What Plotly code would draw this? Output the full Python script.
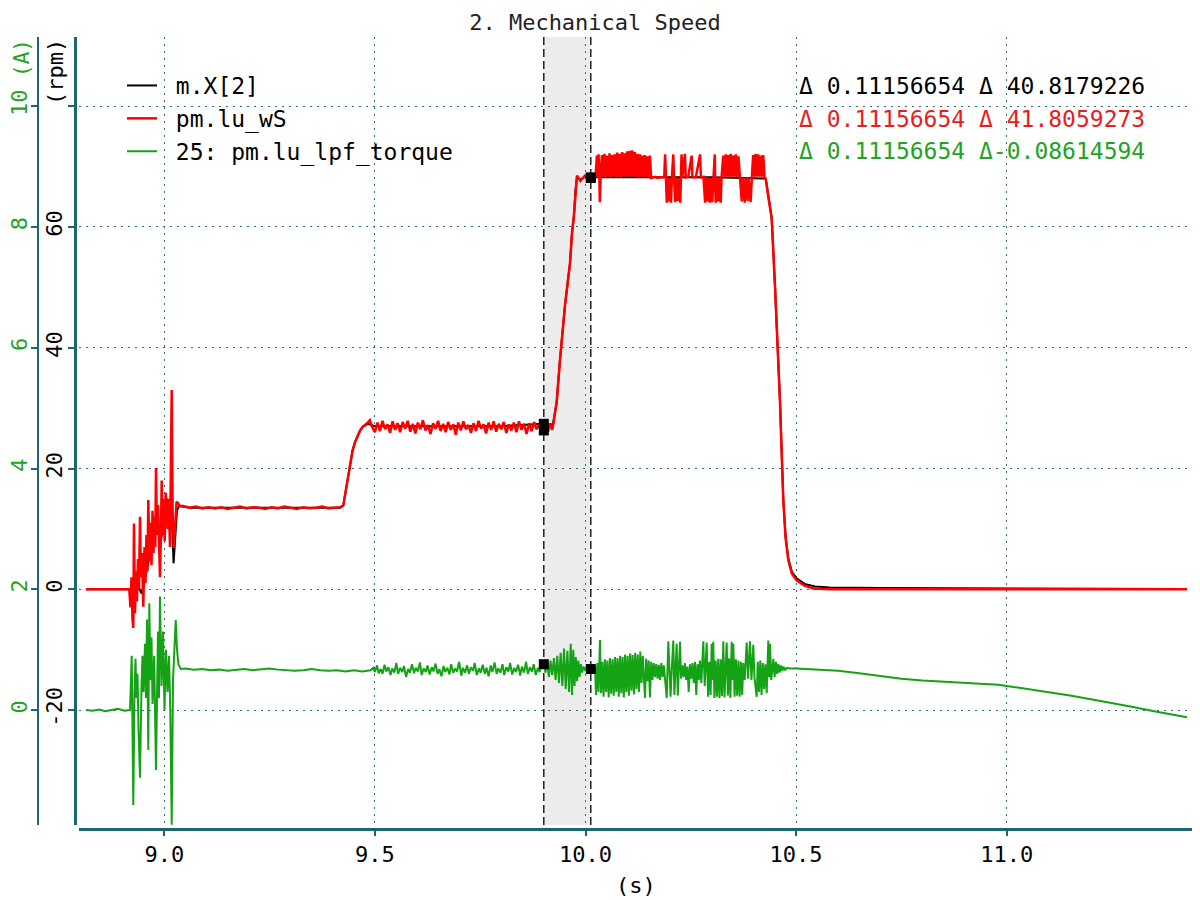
import plotly.graph_objects as go

# ---------------- data (time s, value) ----------------
# m.X[2]  (rpm)
black_pts = [
    (8.814, 0), (8.915, 0), (8.922, -0.5), (8.930, -1.5), (8.938, 0.5), (8.946, -0.7),
    (8.955, 2), (8.963, 5), (8.970, 7), (8.978, 10), (8.985, 11), (8.992, 8),
    (9.000, 12), (9.006, 15), (9.012, 10), (9.017, 14), (9.022, 4.3), (9.026, 9),
    (9.030, 13), (9.035, 13.8), (9.060, 13.5), (9.200, 13.5), (9.418, 13.5),
    (9.425, 13.9), (9.433, 17), (9.441, 20.5), (9.447, 23), (9.453, 24.4), (9.459, 25.5),
    (9.465, 26.3), (9.471, 26.9), (9.477, 27.2), (9.483, 27.4), (9.500, 27.0),
    (9.600, 27.0), (9.700, 27.0), (9.800, 27.0), (9.901, 27.4), (9.9228, 27.3),
    (9.9316, 31), (9.9394, 38), (9.9513, 47), (9.9632, 54), (9.9680, 59),
    (9.9727, 62), (9.9760, 66), (9.9798, 68.2), (9.9880, 67.8), (9.9990, 68.3),
    (10.0126, 68.2), (10.100, 68.2), (10.200, 68.2), (10.300, 68.2), (10.428, 68.0),
    (10.434, 65), (10.442, 61.5), (10.450, 50), (10.456, 40), (10.4616, 31.3),
    (10.4696, 14.9), (10.4750, 8.8), (10.4815, 5.1), (10.490, 2.9), (10.5014, 1.8),
    (10.520, 0.9), (10.545, 0.45), (10.580, 0.3), (10.700, 0.2), (10.900, 0.15),
    (11.100, 0.1), (11.300, 0.05), (11.428, 0.03),
]

# pm.lu_wS  (rpm), split in segments
red_start = [
    (8.814, 0), (8.9169, 0), (8.9197, -3), (8.9221, 2), (8.9245, -5), (8.9264, -6.4),
    (8.9280, 10.9), (8.9304, -4), (8.9328, 3), (8.9351, -2), (8.9375, 5), (8.9399, 0),
    (8.9423, 12), (8.9446, 2), (8.9470, 6), (8.9501, -2.9), (8.9530, 7), (8.9553, 1),
    (8.9577, 9), (8.9601, 3), (8.9620, 14.8), (8.9649, 5), (8.9672, 11), (8.9696, 4),
    (8.9720, 13), (8.9744, 6), (8.9767, 12), (8.9786, 7), (8.9803, 20.1), (8.9827, 9),
    (8.9850, 14), (8.9874, 6), (8.9898, 2), (8.9922, 10), (8.9938, 18), (8.9962, 9),
    (8.9986, 15), (9.0009, 8), (9.0033, 16), (9.0057, 13.6), (9.0081, 10), (9.0104, 15),
    (9.0135, 7), (9.0176, 33), (9.0199, 12), (9.0230, 6.8), (9.0266, 11), (9.0290, 14.5),
    (9.0332, 14.2), (9.0373, 13.8),
]
red_plateau1 = [
    (9.045, 13.8), (9.060, 13.5), (9.075, 13.7), (9.090, 13.4), (9.105, 13.6), (9.120, 13.4),
    (9.135, 13.6), (9.150, 13.3), (9.165, 13.5), (9.180, 13.7), (9.195, 13.4), (9.210, 13.6),
    (9.225, 13.5), (9.240, 13.3), (9.255, 13.6), (9.270, 13.4), (9.285, 13.7), (9.300, 13.5),
    (9.315, 13.3), (9.330, 13.6), (9.345, 13.4), (9.360, 13.5), (9.375, 13.7), (9.390, 13.4),
    (9.405, 13.5), (9.418, 13.6),
    (9.425, 13.9), (9.433, 17), (9.441, 20.5), (9.447, 23), (9.453, 24.4), (9.459, 25.5),
    (9.465, 26.3), (9.471, 26.9), (9.477, 27.2), (9.483, 27.6), (9.488, 28.0), (9.494, 26.8),
    (9.500, 26.0),
]
red_plateau2 = [
    (9.506, 27.6), (9.512, 26.2), (9.518, 27.9), (9.524, 26.5), (9.530, 27.3), (9.536, 25.9),
    (9.542, 27.8), (9.548, 26.4), (9.554, 27.5), (9.560, 26.0), (9.566, 27.7), (9.572, 26.6),
    (9.578, 27.9), (9.584, 26.1), (9.590, 27.4), (9.596, 25.8), (9.602, 27.6), (9.608, 26.5),
    (9.614, 28.0), (9.620, 26.3), (9.626, 27.2), (9.632, 25.7), (9.638, 27.5), (9.644, 26.6),
    (9.650, 27.9), (9.656, 26.2), (9.662, 27.4), (9.668, 26.0), (9.674, 27.7), (9.680, 26.4),
    (9.686, 27.3), (9.692, 25.6), (9.698, 27.6), (9.704, 26.3), (9.710, 27.8), (9.716, 26.5),
    (9.722, 27.2), (9.728, 25.9), (9.734, 27.5), (9.740, 26.2), (9.746, 27.9), (9.752, 26.6),
    (9.758, 27.3), (9.764, 25.8), (9.770, 27.6), (9.776, 26.4), (9.782, 27.8), (9.788, 26.1),
    (9.794, 27.4), (9.800, 26.5), (9.806, 27.7), (9.812, 25.9), (9.818, 27.3), (9.824, 26.3),
    (9.830, 27.6), (9.836, 26.0), (9.842, 27.8), (9.848, 26.4), (9.854, 27.4), (9.860, 25.7),
    (9.866, 27.5), (9.872, 26.2), (9.878, 27.7), (9.884, 26.5), (9.890, 27.3), (9.896, 26.0),
    (9.901, 26.3), (9.906, 27.5), (9.911, 26.1), (9.916, 27.4), (9.921, 26.4),
]
red_rise = [
    (9.9228, 27), (9.9316, 31), (9.9394, 38), (9.9513, 47), (9.9632, 54), (9.9680, 59),
    (9.9727, 62), (9.9760, 66), (9.9798, 68.5), (9.9880, 67.6), (9.9990, 68.5),
    (10.0060, 68.0), (10.0126, 68.1),
]
red_plateau3 = [
    (10.016, 68.3), (10.020, 68.1), (10.024, 68.3), (10.027, 71.8), (10.029, 68.2),
    (10.031, 72.0), (10.033, 68.2), (10.034, 64.1), (10.036, 68.2), (10.039, 71.9),
    (10.042, 68.3), (10.045, 72.1), (10.048, 68.2), (10.051, 71.8), (10.054, 68.3),
    (10.057, 72.2), (10.060, 68.2), (10.063, 71.9), (10.066, 68.4), (10.069, 72.0),
    (10.072, 68.2), (10.075, 72.3), (10.078, 68.3), (10.081, 72.1), (10.084, 68.2),
    (10.087, 72.4), (10.090, 68.4), (10.093, 72.2), (10.096, 68.3), (10.099, 72.5),
    (10.102, 68.4), (10.105, 72.6), (10.108, 68.3), (10.111, 72.7), (10.114, 68.4),
    (10.117, 72.4), (10.120, 68.3), (10.123, 72.1), (10.126, 68.2), (10.129, 72.0),
    (10.132, 68.3), (10.135, 71.8), (10.138, 68.2), (10.141, 71.9), (10.144, 68.3),
    (10.147, 71.7), (10.150, 68.2), (10.153, 71.8), (10.156, 68.1),
    (10.160, 68.2), (10.165, 68.3), (10.170, 68.1), (10.175, 68.2), (10.180, 68.2),
    (10.187, 68.2), (10.189, 72.0), (10.191, 68.2), (10.193, 64.0), (10.195, 68.2),
    (10.198, 64.2), (10.200, 68.1), (10.203, 64.0), (10.205, 68.2), (10.2085, 72.0),
    (10.210, 68.2), (10.213, 64.1), (10.216, 68.2), (10.219, 64.3), (10.222, 68.1),
    (10.225, 64.0), (10.228, 72.0), (10.230, 68.2), (10.236, 72.1), (10.238, 68.2),
    (10.244, 68.3), (10.252, 71.8), (10.254, 68.2), (10.262, 68.2), (10.272, 72.0),
    (10.274, 68.2), (10.280, 68.3), (10.284, 64.0), (10.286, 68.2), (10.289, 64.2),
    (10.292, 68.2), (10.295, 64.0), (10.298, 68.1), (10.301, 64.1), (10.304, 68.2),
    (10.307, 72.0), (10.309, 64.0), (10.312, 68.2), (10.315, 64.2), (10.318, 68.2),
    (10.321, 64.0), (10.323, 68.2), (10.327, 71.8), (10.330, 68.3), (10.333, 72.0),
    (10.336, 68.3), (10.339, 71.9), (10.342, 68.3), (10.345, 72.1), (10.348, 68.3),
    (10.351, 71.8), (10.354, 68.3), (10.357, 72.0), (10.360, 68.2), (10.363, 71.7),
    (10.366, 68.2), (10.371, 64.2), (10.373, 68.2), (10.378, 64.0), (10.380, 68.2),
    (10.385, 64.3), (10.387, 68.2), (10.392, 64.1), (10.395, 68.2), (10.398, 71.9),
    (10.401, 68.3), (10.404, 72.1), (10.407, 68.3), (10.410, 72.0), (10.413, 68.3),
    (10.416, 71.8), (10.419, 68.3), (10.422, 71.9), (10.425, 68.2), (10.428, 67.9),
]
red_drop = [
    (10.434, 65), (10.442, 61.5), (10.450, 50), (10.456, 40), (10.4616, 31.3),
    (10.4696, 14.7), (10.4750, 8.5), (10.4815, 4.8), (10.490, 2.6), (10.5014, 1.5),
    (10.520, 0.6), (10.541, 0.15), (10.580, 0.0), (11.428, 0.0),
]

# 25: pm.lu_lpf_torque  (A), split in segments
green_start = [
    (8.814, 0.0), (8.830, -0.01), (8.845, 0.01), (8.860, -0.02), (8.875, 0.0),
    (8.890, 0.02), (8.905, -0.01), (8.9186, 0.0),
    (8.9226, 0.9), (8.9245, -0.2), (8.9264, -1.57), (8.9292, 0.3), (8.9316, 0.85),
    (8.9340, 0.2), (8.9364, 0.6), (8.9387, -0.3), (8.9423, -1.12), (8.9459, 0.4),
    (8.9482, 0.9), (8.9506, 0.3), (8.9542, 1.1), (8.9565, 0.2), (8.9589, 1.5),
    (8.9620, -0.66), (8.9644, 1.77), (8.9672, 0.5), (8.9696, 1.2), (8.9720, 0.1),
    (8.9760, 0.9), (8.9802, -0.99), (8.9826, 0.6), (8.9850, 1.3), (8.9873, 0.2),
    (8.9897, 1.88), (8.9934, 0.4), (8.9969, 1.3), (9.0005, 0.0), (9.0040, 1.0),
    (9.0076, 0.3), (9.0112, 0.9), (9.0142, 0.0), (9.0176, -1.9), (9.0207, 0.5),
    (9.0242, 1.0), (9.0271, 1.49), (9.0302, 1.0), (9.0337, 0.75), (9.0396, 0.68),
]
green_plateau = [
    (9.05, 0.69), (9.07, 0.67), (9.09, 0.68), (9.11, 0.66), (9.13, 0.67), (9.15, 0.65),
    (9.17, 0.67), (9.19, 0.68), (9.21, 0.66), (9.23, 0.67), (9.25, 0.69), (9.27, 0.67),
    (9.29, 0.66), (9.31, 0.65), (9.33, 0.66), (9.35, 0.68), (9.37, 0.66), (9.39, 0.65),
    (9.41, 0.66), (9.43, 0.64), (9.45, 0.66), (9.47, 0.64), (9.49, 0.66),
    (9.496, 0.70), (9.500, 0.63), (9.505, 0.74), (9.509, 0.61), (9.514, 0.68), (9.518, 0.60),
    (9.523, 0.75), (9.527, 0.64), (9.532, 0.71), (9.537, 0.58), (9.541, 0.69), (9.546, 0.62),
    (9.551, 0.78), (9.555, 0.60), (9.560, 0.70), (9.565, 0.63), (9.569, 0.73), (9.574, 0.55),
    (9.579, 0.68), (9.583, 0.62), (9.588, 0.76), (9.593, 0.61), (9.597, 0.70), (9.602, 0.64),
    (9.607, 0.79), (9.611, 0.58), (9.616, 0.69), (9.621, 0.63), (9.625, 0.74), (9.630, 0.59),
    (9.635, 0.71), (9.639, 0.64), (9.644, 0.77), (9.649, 0.60), (9.653, 0.68), (9.658, 0.56),
    (9.663, 0.73), (9.667, 0.63), (9.672, 0.70), (9.677, 0.59), (9.681, 0.76), (9.686, 0.62),
    (9.691, 0.69), (9.695, 0.64), (9.700, 0.80), (9.705, 0.57), (9.709, 0.70), (9.714, 0.62),
    (9.719, 0.74), (9.723, 0.60), (9.728, 0.71), (9.733, 0.65), (9.737, 0.78), (9.742, 0.58),
    (9.747, 0.69), (9.751, 0.62), (9.756, 0.75), (9.761, 0.60), (9.765, 0.70), (9.770, 0.56),
    (9.775, 0.74), (9.779, 0.63), (9.784, 0.79), (9.789, 0.60), (9.793, 0.69), (9.798, 0.62),
    (9.803, 0.76), (9.807, 0.58), (9.812, 0.71), (9.817, 0.64), (9.821, 0.78), (9.826, 0.59),
    (9.831, 0.70), (9.835, 0.63), (9.840, 0.75), (9.845, 0.57), (9.849, 0.72), (9.854, 0.62),
    (9.859, 0.80), (9.863, 0.60), (9.868, 0.71), (9.873, 0.64), (9.877, 0.76), (9.882, 0.58),
    (9.887, 0.70), (9.891, 0.63), (9.896, 0.77),
]
green_between = [
    (9.901, 0.76), (9.905, 0.62), (9.909, 0.80), (9.913, 0.55), (9.917, 0.82), (9.921, 0.58),
    (9.925, 0.86), (9.929, 0.50), (9.933, 0.90), (9.937, 0.45), (9.941, 0.95), (9.945, 0.40),
    (9.949, 1.02), (9.953, 0.35), (9.957, 0.98), (9.961, 0.30), (9.965, 1.10), (9.968, 0.25),
    (9.971, 1.00), (9.974, 0.40), (9.977, 0.88), (9.980, 0.48), (9.983, 0.82), (9.986, 0.55),
    (9.989, 0.76), (9.992, 0.62), (9.995, 0.72), (9.999, 0.66), (10.004, 0.69), (10.008, 0.67),
    (10.0126, 0.68),
]
green_burst = [
    (10.016, 0.70), (10.020, 0.66), (10.0226, 0.72), (10.025, 0.25), (10.028, 0.78),
    (10.031, 0.30), (10.0344, 1.16), (10.037, 0.28), (10.040, 0.80), (10.043, 0.22),
    (10.046, 0.84), (10.049, 0.30), (10.052, 0.82), (10.055, 0.21), (10.058, 0.86),
    (10.061, 0.27), (10.064, 0.84), (10.067, 0.24), (10.070, 0.88), (10.073, 0.30),
    (10.076, 0.86), (10.079, 0.22), (10.082, 0.90), (10.085, 0.28), (10.088, 0.88),
    (10.091, 0.21), (10.094, 0.92), (10.097, 0.30), (10.100, 0.90), (10.103, 0.24),
    (10.106, 0.94), (10.109, 0.32), (10.112, 0.91), (10.115, 0.26), (10.118, 0.95),
    (10.121, 0.35), (10.124, 0.92), (10.127, 0.30), (10.130, 0.97), (10.133, 0.45),
    (10.136, 0.90), (10.139, 0.50), (10.1413, 0.20), (10.144, 0.85), (10.147, 0.48),
    (10.150, 0.82), (10.1531, 0.21), (10.156, 0.80), (10.159, 0.50), (10.162, 0.78),
    (10.165, 0.55), (10.168, 0.76), (10.171, 0.52), (10.174, 0.75), (10.177, 0.50),
    (10.180, 0.78), (10.183, 0.55), (10.186, 0.74), (10.189, 0.52), (10.1928, 0.20),
    (10.1966, 1.14), (10.199, 0.55), (10.202, 0.22), (10.205, 0.70), (10.2085, 1.15),
    (10.211, 0.25), (10.214, 0.72), (10.2165, 1.10), (10.219, 0.24), (10.222, 0.68),
    (10.2244, 1.13), (10.227, 0.52), (10.230, 0.74), (10.233, 0.55), (10.236, 0.78),
    (10.239, 0.50), (10.242, 0.72), (10.245, 0.30), (10.248, 0.76), (10.251, 0.52),
    (10.254, 0.78), (10.257, 0.45), (10.260, 0.80), (10.263, 0.25), (10.266, 0.76),
    (10.269, 0.50), (10.2718, 0.82), (10.275, 0.45), (10.2797, 1.14), (10.283, 0.40),
    (10.2877, 1.12), (10.291, 0.22), (10.294, 0.80), (10.297, 0.25), (10.2996, 1.10),
    (10.3015, 0.50), (10.3034, 1.13), (10.306, 0.20), (10.309, 0.82), (10.312, 0.22),
    (10.315, 0.85), (10.318, 0.20), (10.321, 0.84), (10.324, 0.23), (10.3272, 1.14),
    (10.330, 0.21), (10.3352, 1.12), (10.338, 0.24), (10.341, 0.86), (10.344, 0.20),
    (10.3471, 1.13), (10.349, 0.50), (10.3509, 1.10), (10.354, 0.22), (10.357, 0.84),
    (10.360, 0.24), (10.363, 0.82), (10.366, 0.22), (10.369, 0.80), (10.372, 0.25),
    (10.3746, 0.78), (10.378, 0.50), (10.3827, 1.12), (10.386, 0.52), (10.3905, 1.14),
    (10.394, 0.50), (10.3984, 1.08), (10.401, 0.55), (10.4064, 0.22), (10.409, 0.80),
    (10.412, 0.30), (10.415, 0.82), (10.418, 0.25), (10.421, 0.78), (10.424, 0.35),
    (10.427, 0.76), (10.4302, 0.28), (10.434, 1.15), (10.436, 0.55), (10.438, 1.10),
    (10.441, 0.50), (10.4459, 0.85), (10.449, 0.55), (10.452, 0.80), (10.455, 0.60),
    (10.458, 0.76), (10.461, 0.62), (10.464, 0.74), (10.467, 0.65), (10.470, 0.72),
    (10.474, 0.66), (10.478, 0.70), (10.4855, 0.69),
]
green_tail = [
    (10.50, 0.69), (10.53, 0.68), (10.56, 0.67), (10.60, 0.65), (10.65, 0.61), (10.70, 0.56),
    (10.75, 0.52), (10.80, 0.49), (10.85, 0.47), (10.90, 0.45), (10.95, 0.44), (10.98, 0.42),
    (11.02, 0.38), (11.06, 0.34), (11.10, 0.29), (11.15, 0.24), (11.20, 0.18), (11.25, 0.12),
    (11.30, 0.05), (11.35, -0.02), (11.40, -0.08), (11.428, -0.12),
]

# cursors and marker values
cursor_t = [9.901, 10.0126]
black_cursor = [27.4, 68.2]
red_cursor = [26.3, 68.1]
green_cursor = [0.76, 0.68]

series_names = ["m.X[2]", "pm.lu_wS", "25: pm.lu_lpf_torque"]
delta_texts = [
    "Δ 0.11156654 Δ 40.8179226",
    "Δ 0.11156654 Δ 41.8059273",
    "Δ 0.11156654 Δ-0.08614594",
]
x_ticks = [9.0, 9.5, 10.0, 10.5, 11.0]
x_tick_labels = ["9.0", "9.5", "10.0", "10.5", "11.0"]
rpm_ticks = [-20, 0, 20, 40, 60, 80]
rpm_tick_labels = ["-20", "0", "20", "40", "60", ""]
amp_ticks = [0, 2, 4, 6, 8, 10]
amp_tick_labels = ["0", "2", "4", "6", "8", "10"]

# ---------------- figure ----------------
BLACK = "#000000"
RED = "#ff0000"
GREEN = "#14a314"
TEXT_RED = "#e61e1e"
TEXT_GREEN = "#22a322"
AXIS = "#1d6670"
GRID = "#2e6f76"
FONT = "DejaVu Sans Mono"
NBSP = "\u00a0"  # gap between legend line sample and its text

OFF = 8  # page body margin
W, H = 1200 - OFF, 900 - OFF
# plot area in screen pixels
PX_L, PX_R, PX_T, PX_B = 79, 1193, 37, 829
ML, MR, MT, MB = 0, W - (PX_R - OFF), PX_T - OFF, H - (PX_B - OFF)
PW = W - ML - MR
PH = H - MT - MB


def px_x(p):
    return (p - OFF - ML) / PW


def px_y(p):
    return 1 - (p - OFF - MT) / PH


def unzip(pts):
    return [p[0] for p in pts], [p[1] for p in pts]


fig = go.Figure()

bt, bv = unzip(black_pts)
fig.add_trace(go.Scatter(x=bt, y=bv, mode="lines", name=NBSP + series_names[0],
                         line=dict(color=BLACK, width=2), yaxis="y"))
rt, rv = unzip(red_start + red_plateau1 + red_plateau2 + red_rise + red_plateau3 + red_drop)
fig.add_trace(go.Scatter(x=rt, y=rv, mode="lines", name=NBSP + series_names[1],
                         line=dict(color=RED, width=2.5), yaxis="y"))
gt, gv = unzip(green_start + green_plateau + green_between + green_burst + green_tail)
fig.add_trace(go.Scatter(x=gt, y=gv, mode="lines", name=NBSP + series_names[2],
                         line=dict(color=GREEN, width=2), yaxis="y2"))

mk = dict(symbol="square", size=10, color=BLACK)
fig.add_trace(go.Scatter(x=cursor_t, y=black_cursor, mode="markers", marker=mk,
                         showlegend=False, yaxis="y"))
fig.add_trace(go.Scatter(x=cursor_t, y=red_cursor, mode="markers", marker=mk,
                         showlegend=False, yaxis="y"))
fig.add_trace(go.Scatter(x=cursor_t, y=green_cursor, mode="markers", marker=mk,
                         showlegend=False, yaxis="y2"))

ydom0 = 4 / PH
fig.add_shape(type="rect", xref="x", yref="paper", x0=cursor_t[0], x1=cursor_t[1],
              y0=ydom0, y1=1, fillcolor="#ececec", line_width=0, layer="below")
for ct in cursor_t:
    fig.add_shape(type="line", xref="x", yref="paper", x0=ct, x1=ct, y0=ydom0, y1=1,
                  line=dict(color=BLACK, width=1.3, dash="8px,4px"))

# pixel geometry -> axis ranges
t_at_9, px_per_s = 164.3, 421.2
xr = [9 + (PX_L - t_at_9) / px_per_s, 9 + (PX_R - t_at_9) / px_per_s]
top_px, bot_px, zero_px, px_per_rpm = 37, 825, 589.3, 6.04
rpm_range = [-(bot_px - zero_px) / px_per_rpm, (zero_px - top_px) / px_per_rpm]
amp_range = [(rpm_range[0] + 20) / 10, (rpm_range[1] + 20) / 10]

fig.update_layout(
    width=W, height=H,
    margin=dict(l=ML, r=MR, t=MT, b=MB, autoexpand=False),
    paper_bgcolor="white", plot_bgcolor="rgba(0,0,0,0)",
    font=dict(family=FONT, size=22, color=BLACK),
    title=dict(text="2. Mechanical Speed", x=(595 - OFF) / W, xref="container",
               xanchor="center", y=1 - (22 - OFF) / H, yref="container", yanchor="middle",
               font=dict(family=FONT, size=22, color="#222222")),
    showlegend=True,
    legend=dict(x=px_x(122), y=px_y(64), xanchor="left", yanchor="top",
                bgcolor="rgba(0,0,0,0)", font=dict(family=FONT, size=23, color=BLACK),
                borderwidth=0, itemwidth=30),
    xaxis=dict(domain=[px_x(PX_L), 1], range=xr, anchor="free", position=0,
               showline=True, linecolor=AXIS, linewidth=2.5, mirror=False,
               ticks="outside", ticklen=5, tickcolor=AXIS, tickwidth=1.5,
               tickvals=x_ticks, ticktext=x_tick_labels,
               tickfont=dict(family=FONT, size=22, color=BLACK),
               showgrid=True, gridcolor=GRID, gridwidth=1, griddash="2px,5px",
               zeroline=False),
    yaxis=dict(domain=[ydom0, 1], range=rpm_range, anchor="free",
               position=px_x(74.7), side="left",
               showline=True, linecolor=AXIS, linewidth=2.5,
               ticks="outside", ticklen=6, tickcolor=AXIS, tickwidth=1.5,
               tickvals=rpm_ticks, ticktext=rpm_tick_labels, tickangle=-90,
               ticklabelstandoff=-3,
               tickfont=dict(family=FONT, size=22, color=BLACK),
               showgrid=True, gridcolor=GRID, gridwidth=1, griddash="2px,5px",
               zeroline=False),
    yaxis2=dict(domain=[ydom0, 1], range=amp_range, anchor="free", overlaying="y",
                position=px_x(37.7), side="left",
                showline=True, linecolor=AXIS, linewidth=1.5,
                ticks="outside", ticklen=6, tickcolor=AXIS, tickwidth=1.5,
                tickvals=amp_ticks, ticktext=amp_tick_labels, tickangle=-90,
                ticklabelstandoff=-5,
                tickfont=dict(family=FONT, size=22, color=TEXT_GREEN),
                showgrid=False, zeroline=False),
)

# axis titles
fig.add_annotation(text="(A)", xref="paper", yref="paper", x=px_x(22), y=px_y(58),
                   textangle=-90, showarrow=False, xanchor="center", yanchor="middle",
                   font=dict(family=FONT, size=21, color=TEXT_GREEN))
fig.add_annotation(text="(rpm)", xref="paper", yref="paper", x=px_x(55), y=px_y(72),
                   textangle=-90, showarrow=False, xanchor="center", yanchor="middle",
                   font=dict(family=FONT, size=22, color=BLACK))
fig.add_annotation(text="(s)", xref="paper", yref="paper", x=px_x(636), y=px_y(885),
                   showarrow=False, xanchor="center", yanchor="middle",
                   font=dict(family=FONT, size=22, color=BLACK))

# delta read-outs
for txt, col, ypx in zip(delta_texts, [BLACK, TEXT_RED, TEXT_GREEN], [86, 119, 151]):
    fig.add_annotation(text=txt, xref="paper", yref="paper", x=px_x(1147), y=px_y(ypx),
                       showarrow=False, xanchor="right", yanchor="middle",
                       font=dict(family=FONT, size=23, color=col))

fig.write_html("out.html")
